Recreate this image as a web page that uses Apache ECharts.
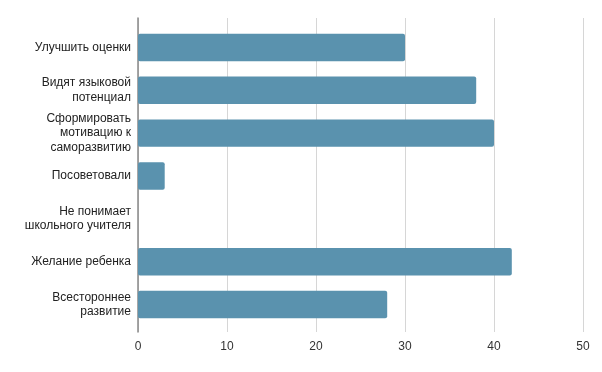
<!DOCTYPE html>
<html>
<head>
<meta charset="utf-8">
<script src="https://cdn.jsdelivr.net/npm/echarts@6/dist/echarts.min.js"></script>
<style>
  html, body { margin: 0; padding: 0; background: #fff; }
  #chart { width: 602px; height: 372px; }
</style>
</head>
<body>
<div id="chart"></div>
<script>
// categories top to bottom
var categories = [
    "Улучшить оценки",
    "Видят языковой\nпотенциал",
    "Сформировать\nмотивацию к\nсаморазвитию",
    "Посоветовали",
    "Не понимает\nшкольного учителя",
    "Желание ребенка",
    "Всестороннее\nразвитие"
];
var values = [30, 38, 40, 3, 0, 42, 28];
var xTicks = [0, 10, 20, 30, 40, 50];

var chart = echarts.init(document.getElementById("chart"));
chart.setOption({
    animation: false,
    textStyle: {fontFamily: "Liberation Sans, Arial, sans-serif"},
    // grid 0: frame (gridlines + baseline), grid 1: bars
    grid: [
        {left: 138, right: 19, top: 18, bottom: 40},
        {left: 138, right: 19, top: 26, bottom: 46}
    ],
    xAxis: [
        {
            type: "value",
            gridIndex: 0,
            min: xTicks[0],
            max: xTicks[xTicks.length - 1],
            interval: 10,
            axisLine: {show: false},
            axisTick: {show: false},
            axisLabel: {color: "#333", fontSize: 12, margin: 9},
            splitLine: {lineStyle: {color: "#d6d6d6", width: 1}}
        },
        {
            type: "value",
            gridIndex: 1,
            min: xTicks[0],
            max: xTicks[xTicks.length - 1],
            show: false
        }
    ],
    yAxis: [
        {
            type: "value",
            gridIndex: 0,
            min: 0,
            max: 1,
            axisLine: {show: true, lineStyle: {color: "#888", width: 1.5}},
            axisTick: {show: false},
            axisLabel: {show: false},
            splitLine: {show: false}
        },
        {
            type: "category",
            gridIndex: 1,
            inverse: true,
            data: categories,
            axisLine: {show: false},
            axisTick: {show: false},
            axisLabel: {color: "#222", fontSize: 12, lineHeight: 14.5, margin: 7, align: "right"},
            splitLine: {show: false}
        }
    ],
    series: [
        {
            type: "bar",
            xAxisIndex: 1,
            yAxisIndex: 1,
            data: values,
            barCategoryGap: "36%",
            itemStyle: {color: "#5a92ae", borderRadius: 2}
        }
    ]
});
</script>
</body>
</html>
